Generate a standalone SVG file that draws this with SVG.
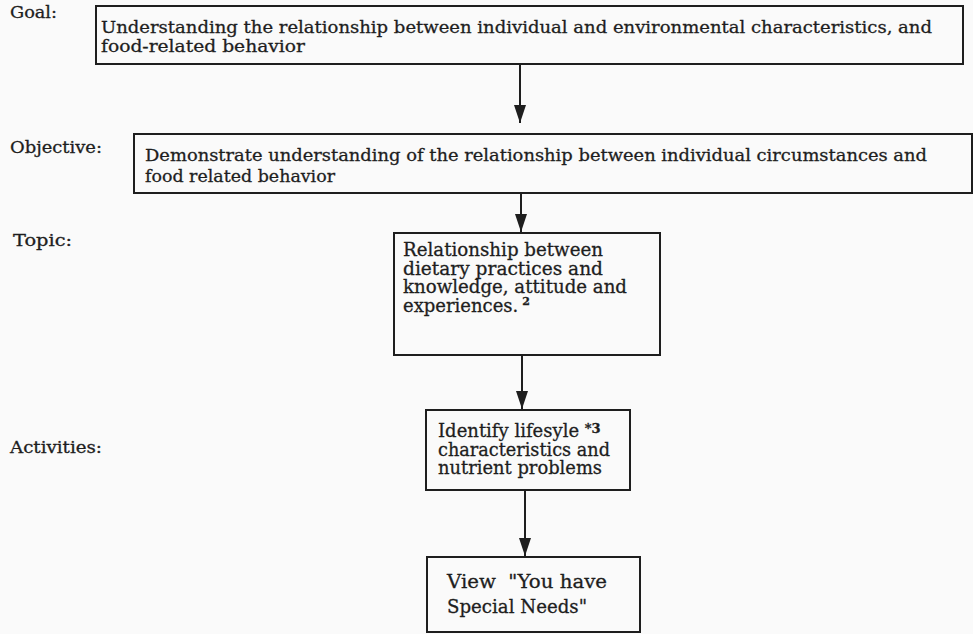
<svg xmlns="http://www.w3.org/2000/svg" width="973" height="634" viewBox="0 0 973 634">
<defs>
<style>
text{stroke:#1e1e1e;stroke-width:0.3}
.t{font-family:"DejaVu Serif","Liberation Serif",serif;font-size:17px;fill:#1e1e1e}
.n{font-family:"DejaVu Serif","Liberation Serif",serif;font-size:18px;fill:#1e1e1e}
.l{font-family:"DejaVu Serif","Liberation Serif",serif;font-size:16px;fill:#1e1e1e}
.sup{font-size:11px;font-weight:bold}
.b{fill:none;stroke:#1e1e1e;stroke-width:2}
.c{stroke:#1e1e1e;stroke-width:2;fill:none}
</style>
<marker id="ah" markerWidth="18" markerHeight="12" refX="18" refY="6" orient="auto" markerUnits="userSpaceOnUse" viewBox="0 0 18 12">
<path d="M0,0 L18,6 L0,12 Z" fill="#1e1e1e" stroke="none"/>
</marker>
</defs>
<rect width="973" height="634" fill="#fafafa"/>
<g id="labels">
<text class="l" x="10" y="18" textLength="47" lengthAdjust="spacingAndGlyphs">Goal:</text>
<text class="l" x="10" y="153" textLength="92" lengthAdjust="spacingAndGlyphs">Objective:</text>
<text class="l" x="13" y="246" textLength="59" lengthAdjust="spacingAndGlyphs">Topic:</text>
<text class="l" x="10" y="453" textLength="92" lengthAdjust="spacingAndGlyphs">Activities:</text>
</g>
<g id="goal">
<rect class="b" x="96" y="6" width="867" height="58"/>
<text class="t" x="101" y="33" textLength="831" lengthAdjust="spacingAndGlyphs">Understanding the relationship between individual and environmental characteristics, and</text>
<text class="t" x="101" y="52" textLength="204" lengthAdjust="spacingAndGlyphs">food-related behavior</text>
</g>
<g id="objective">
<rect class="b" x="134" y="134" width="838" height="59"/>
<text class="t" x="145" y="161" textLength="782" lengthAdjust="spacingAndGlyphs">Demonstrate understanding of the relationship between individual circumstances and</text>
<text class="t" x="145" y="182" textLength="190" lengthAdjust="spacingAndGlyphs">food related behavior</text>
</g>
<g id="topic">
<rect class="b" x="394" y="233" width="266" height="122"/>
<text class="n" x="403" y="256" textLength="200" lengthAdjust="spacingAndGlyphs">Relationship between</text>
<text class="n" x="403" y="275" textLength="200" lengthAdjust="spacingAndGlyphs">dietary practices and</text>
<text class="n" x="403" y="293" textLength="224" lengthAdjust="spacingAndGlyphs">knowledge, attitude and</text>
<text class="n" x="403" y="312">experiences.<tspan class="sup" dx="4" dy="-7">2</tspan></text>
</g>
<g id="activity1">
<rect class="b" x="426" y="410" width="204" height="80"/>
<text class="n" x="438" y="437">Identify lifesyle <tspan class="sup" style="font-size:13px" dy="-4">*3</tspan></text>
<text class="n" x="438" y="456" textLength="172" lengthAdjust="spacingAndGlyphs">characteristics and</text>
<text class="n" x="438" y="474" textLength="164" lengthAdjust="spacingAndGlyphs">nutrient problems</text>
</g>
<g id="activity2">
<rect class="b" x="427" y="557" width="213" height="75"/>
<text class="n" x="447" y="588" xml:space="preserve" textLength="160" lengthAdjust="spacingAndGlyphs">View  "You have</text>
<text class="n" x="447" y="613" textLength="140" lengthAdjust="spacingAndGlyphs">Special Needs"</text>
</g>
<g id="connectors">
<line class="c" x1="520" y1="64" x2="520" y2="123" marker-end="url(#ah)"/>
<line class="c" x1="521" y1="193" x2="521" y2="232" marker-end="url(#ah)"/>
<line class="c" x1="522" y1="355" x2="522" y2="409" marker-end="url(#ah)"/>
<line class="c" x1="525" y1="490" x2="525" y2="556" marker-end="url(#ah)"/>
</g>
</svg>
